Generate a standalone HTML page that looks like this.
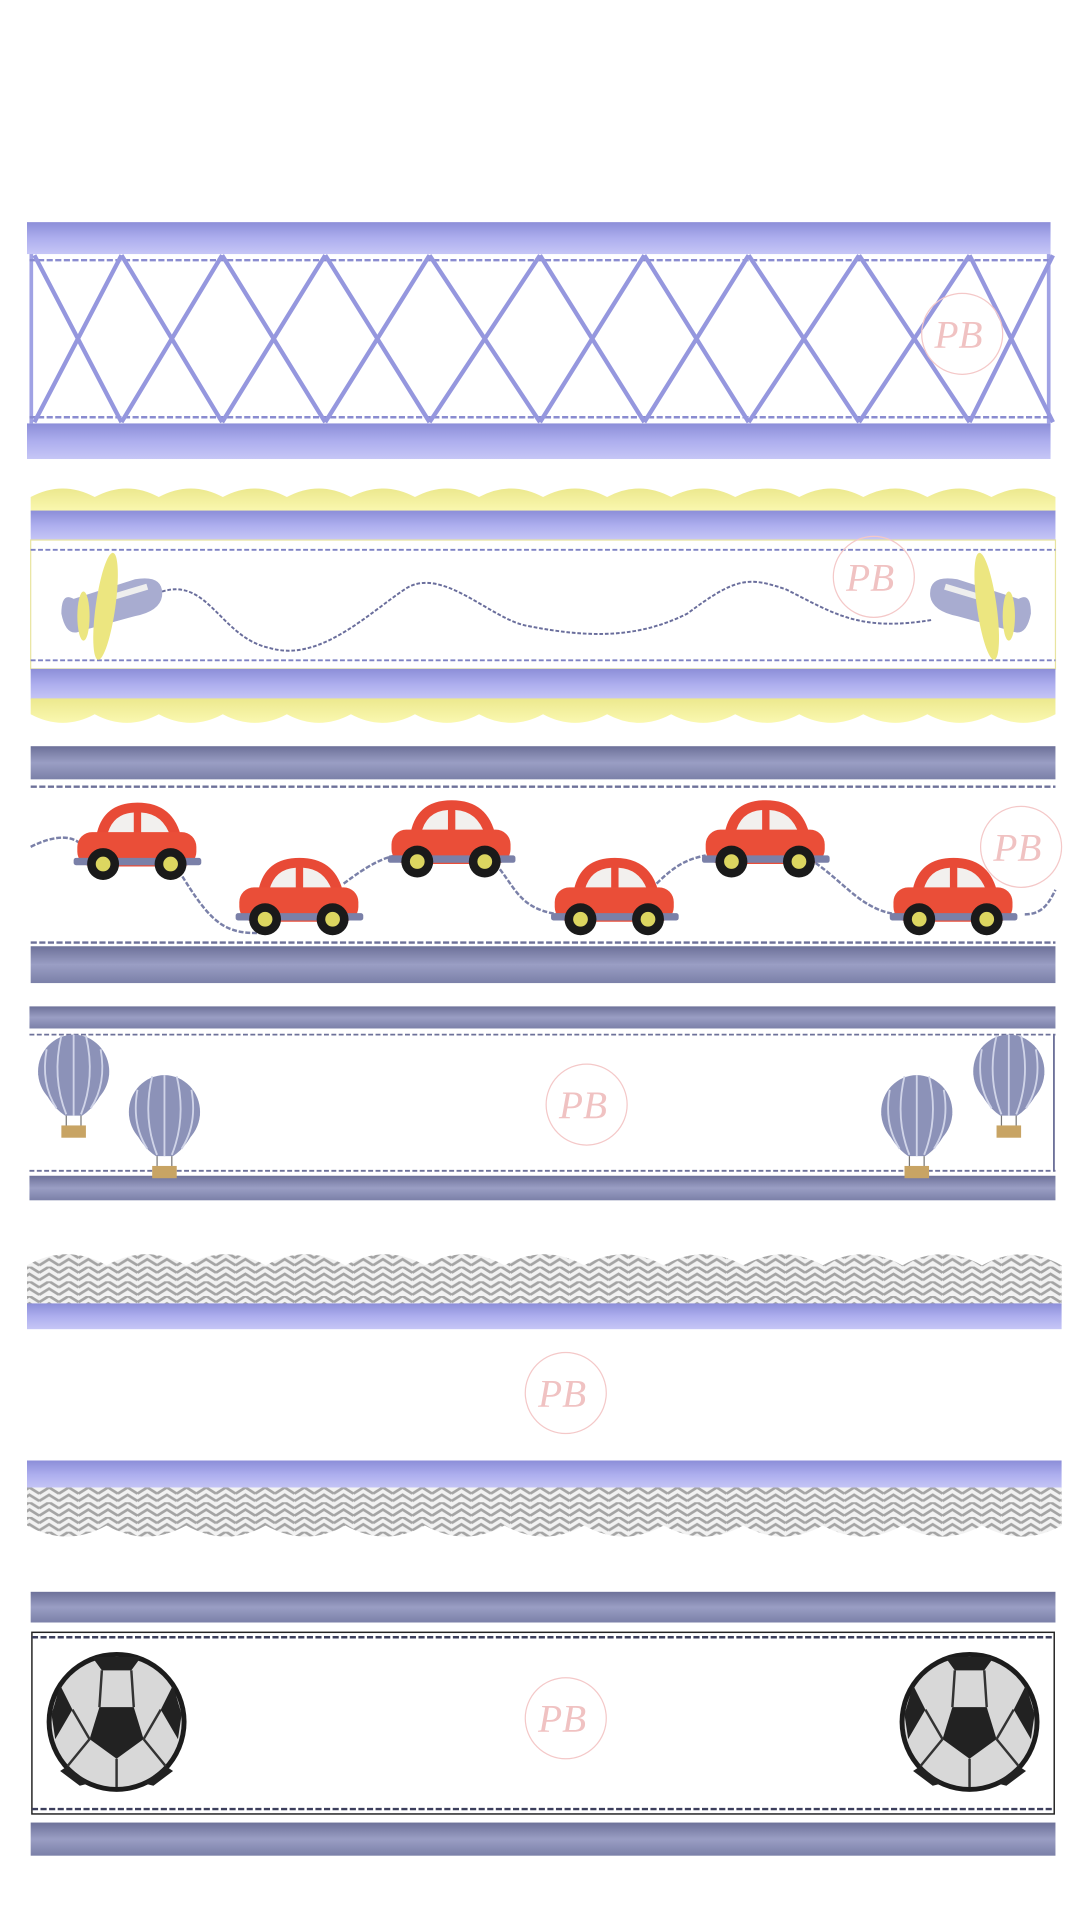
<!DOCTYPE html>
<html><head><meta charset="utf-8"><style>
html,body{margin:0;padding:0;background:#fff;width:1080px;height:1920px;overflow:hidden}
svg{display:block}
</style></head><body>
<svg id="s" width="1080" height="1920" viewBox="0 0 880 1564.4" preserveAspectRatio="none" xmlns="http://www.w3.org/2000/svg">
<defs>
<linearGradient id="lav" x1="0" y1="0" x2="0" y2="1"><stop offset="0" stop-color="#8c8ed8"/><stop offset=".5" stop-color="#adaeee"/><stop offset="1" stop-color="#c6c6f6"/></linearGradient>
<linearGradient id="navy" x1="0" y1="0" x2="0" y2="1"><stop offset="0" stop-color="#6d7199"/><stop offset=".5" stop-color="#9a9ec4"/><stop offset="1" stop-color="#7b80a8"/></linearGradient>
<linearGradient id="yel" x1="0" y1="0" x2="0" y2="1"><stop offset="0" stop-color="#ece88e"/><stop offset="1" stop-color="#faf8b0"/></linearGradient>
<pattern id="chev" width="16" height="12" patternUnits="userSpaceOnUse"><rect width="16" height="12" fill="#f2f2f2"/><path d="M0,5 L8,0 L16,5 M0,11 L8,6 L16,11" stroke="#a4a4a4" stroke-width="2.2" fill="none"/></pattern>
<g id="car">
<path d="M18,32 Q22,2 52,2 Q82,2 88,32 Z" fill="#e84a36"/>
<path d="M27,30 Q31,11 49,10 L49,30Z M55,10 Q73,11 79,30 L55,30Z" fill="#f2f0ee"/>
<rect x="3" y="26" width="97" height="28" rx="12" fill="#ea4e38"/>
<rect x="0" y="47" width="104" height="6" rx="2" fill="#7a80a8"/>
<circle cx="24" cy="52" r="13" fill="#1a1a1a"/><circle cx="24" cy="52" r="6" fill="#dcd660"/>
<circle cx="79" cy="52" r="13" fill="#1a1a1a"/><circle cx="79" cy="52" r="6" fill="#dcd660"/>
</g>
<g id="bal">
<ellipse cx="0" cy="0" rx="29" ry="30" fill="#8c92b8"/>
<path d="M-29,2 Q-22,26 -7,36 L7,36 Q22,26 29,2Z" fill="#8c92b8"/>
<path d="M-10,-29 Q-18,5 -6,35 M10,-29 Q18,5 6,35 M0,-30 L0,36 M-22,-18 Q-27,10 -14,30 M22,-18 Q27,10 14,30" stroke="#d0d4e8" stroke-width="1.5" fill="none"/>
<path d="M-6,36 L-6,44 M6,36 L6,44" stroke="#777" stroke-width="1"/>
<rect x="-10" y="44" width="20" height="10" fill="#c8a464"/>
</g>
<g id="ball">
<ellipse cx="0" cy="0" rx="57" ry="57" fill="#1c1c1c"/>
<ellipse cx="0" cy="0" rx="53" ry="53" fill="#d8d8d8"/>
<path d="M-14,-12 L14,-12 L22,14 L0,30 L-22,14Z" fill="#222"/>
<path d="M-20,-53 L20,-53 L12,-42 L-12,-42Z M-53,-6 L-46,-30 L-36,-10 L-50,14Z M53,-6 L46,-30 L36,-10 L50,14Z M-40,36 L-22,50 L-30,52 L-46,40Z M40,36 L22,50 L30,52 L46,40Z" fill="#222"/>
<path d="M-14,-12 L-12,-42 M14,-12 L12,-42 M-22,14 L-36,-10 M22,14 L36,-10 M0,30 L0,53 M-22,14 L-40,36 M22,14 L40,36" stroke="#333" stroke-width="2"/>
</g>
<g id="plane">
<path d="M-40,10 Q-40,-8 -30,-2 L20,-18 Q44,-22 42,-4 Q40,8 20,12 L-24,24 Q-36,30 -40,10Z" fill="#a8acd0"/>
<path d="M-10,0 L30,-12" stroke="#eee" stroke-width="5"/>
<ellipse cx="-4" cy="4" rx="8" ry="44" transform="rotate(8 -4 4)" fill="#ece680"/>
<ellipse cx="-22" cy="12" rx="5" ry="20" fill="#ece680"/>
</g>
<g id="pb">
<circle cx="0" cy="0" r="33" fill="none" stroke="#f4c8c8" stroke-width="1"/>
<text x="-3" y="11" text-anchor="middle" font-family="Liberation Serif,serif" font-style="italic" font-size="32" fill="#f0c2c2">PB</text>
</g>
</defs>

<rect x="22" y="181" width="834" height="26" fill="url(#lav)"/>
<rect x="22" y="345" width="834" height="29" fill="url(#lav)"/>
<rect x="24" y="207" width="3" height="138" fill="#a0a2e4"/>
<rect x="853" y="207" width="3" height="138" fill="#a0a2e4"/>
<line x1="24" y1="212" x2="856" y2="212" stroke="#8a8cd0" stroke-width="2" stroke-dasharray="5,2"/>
<line x1="24" y1="340" x2="856" y2="340" stroke="#8a8cd0" stroke-width="2" stroke-dasharray="5,2"/>
<g id="lat" stroke="#9597de" stroke-width="3.5" fill="none"></g>
<use href="#pb" x="784" y="272"/>

<path id="ys1" fill="url(#yel)"/>
<rect x="25" y="416" width="835" height="24" fill="url(#lav)"/>
<rect x="25" y="440" width="835" height="105" fill="#fff" stroke="#e8e4a0" stroke-width="1"/>
<line x1="25" y1="448" x2="860" y2="448" stroke="#7e82c4" stroke-width="1.5" stroke-dasharray="4,2"/>
<line x1="25" y1="538" x2="860" y2="538" stroke="#7e82c4" stroke-width="1.5" stroke-dasharray="4,2"/>
<rect x="25" y="545" width="835" height="25" fill="url(#lav)"/>
<path id="ys2" fill="url(#yel)"/>
<path d="M132,482 C170,470 180,520 220,528 C260,540 300,500 330,480 C360,460 400,505 430,510 C480,520 520,520 560,500 C600,470 610,470 640,480 C680,500 700,515 760,505" stroke="#6a6e9c" stroke-width="1.6" fill="none" stroke-dasharray="3,1.5"/>
<use href="#pb" x="712" y="470"/>
<use href="#plane" x="90" y="490"/>
<use href="#plane" transform="translate(800,490) scale(-1,1)"/>

<rect x="25" y="608" width="835" height="27" fill="url(#navy)"/>
<line x1="25" y1="641" x2="860" y2="641" stroke="#6d7199" stroke-width="2" stroke-dasharray="5,2"/>
<line x1="25" y1="768" x2="860" y2="768" stroke="#6d7199" stroke-width="2" stroke-dasharray="5,2"/>
<rect x="25" y="771" width="835" height="30" fill="url(#navy)"/>
<path d="M25,690 C45,680 60,680 68,690 M140,700 C170,750 180,762 215,760 M280,720 C300,705 310,700 322,697 M400,700 C420,720 420,740 455,745 M535,720 C550,705 560,700 575,697 M660,700 C690,720 700,740 730,745 M835,745 C850,745 855,735 860,725" stroke="#7a80a8" stroke-width="2" fill="none" stroke-dasharray="4,1.5"/>
<use href="#car" x="60" y="652"/>
<use href="#car" x="192" y="697"/>
<use href="#car" x="316" y="650"/>
<use href="#car" x="449" y="697"/>
<use href="#car" x="572" y="650"/>
<use href="#car" x="725" y="697"/>
<use href="#pb" x="832" y="690"/>

<rect x="24" y="820" width="836" height="18" fill="url(#navy)"/>
<line x1="24" y1="843" x2="860" y2="843" stroke="#6d7199" stroke-width="1.5" stroke-dasharray="4,2"/>
<line x1="24" y1="954" x2="860" y2="954" stroke="#6d7199" stroke-width="1.5" stroke-dasharray="4,2"/>
<rect x="858" y="843" width="1.5" height="111" fill="#6d7199"/>
<rect x="24" y="958" width="836" height="20" fill="url(#navy)"/>
<use href="#bal" x="60" y="873"/>
<use href="#bal" x="134" y="906"/>
<use href="#bal" x="747" y="906"/>
<use href="#bal" x="822" y="873"/>
<use href="#pb" x="478" y="900"/>

<path id="cs1" fill="url(#chev)"/>
<rect x="22" y="1062" width="843" height="21" fill="url(#lav)"/>
<use href="#pb" x="461" y="1135"/>
<rect x="22" y="1190" width="843" height="23" fill="url(#lav)"/>
<path id="cs2" fill="url(#chev)"/>

<rect x="25" y="1297" width="835" height="25" fill="url(#navy)"/>
<rect x="26" y="1330" width="833" height="148" fill="#fff" stroke="#222" stroke-width="1.2"/>
<line x1="26" y1="1334" x2="859" y2="1334" stroke="#3c3f5c" stroke-width="2" stroke-dasharray="5,2"/>
<line x1="26" y1="1474" x2="859" y2="1474" stroke="#3c3f5c" stroke-width="2" stroke-dasharray="5,2"/>
<rect x="25" y="1485" width="835" height="27" fill="url(#navy)"/>
<use href="#ball" x="95" y="1403"/>
<use href="#ball" x="790" y="1403"/>
<use href="#pb" x="461" y="1400"/>
</svg>
<script>
var xs=[28,99,181,265,350,440,525,610,700,790,858];
var g=document.getElementById('lat'),d='';
for(var i=0;i<xs.length-1;i++){d+='M'+xs[i]+',208 L'+xs[i+1]+',344 M'+xs[i+1]+',208 L'+xs[i]+',344 ';}
g.innerHTML='<path d="'+d+'"/>';
function scal(x0,x1,yb,yt,n,up,dep){var w=(x1-x0)/n,s=up?1:-1,j=yt+s*dep,c=yt-s*dep,p='M'+x0+','+yb+' L'+x0+','+j;
for(var i=0;i<n;i++){var a=x0+i*w;p+=' Q'+(a+w/2)+','+c+' '+(a+w)+','+j;}
p+=' L'+x1+','+yb+'Z';return p;}
document.getElementById('ys1').setAttribute('d',scal(25,860,417,398,16,true,7));
document.getElementById('ys2').setAttribute('d',scal(25,860,569,589,16,false,7));
document.getElementById('cs1').setAttribute('d',scal(22,865,1063,1022,13,true,9));
document.getElementById('cs2').setAttribute('d',scal(22,865,1212,1252,13,false,9));
</script>
</body></html>
